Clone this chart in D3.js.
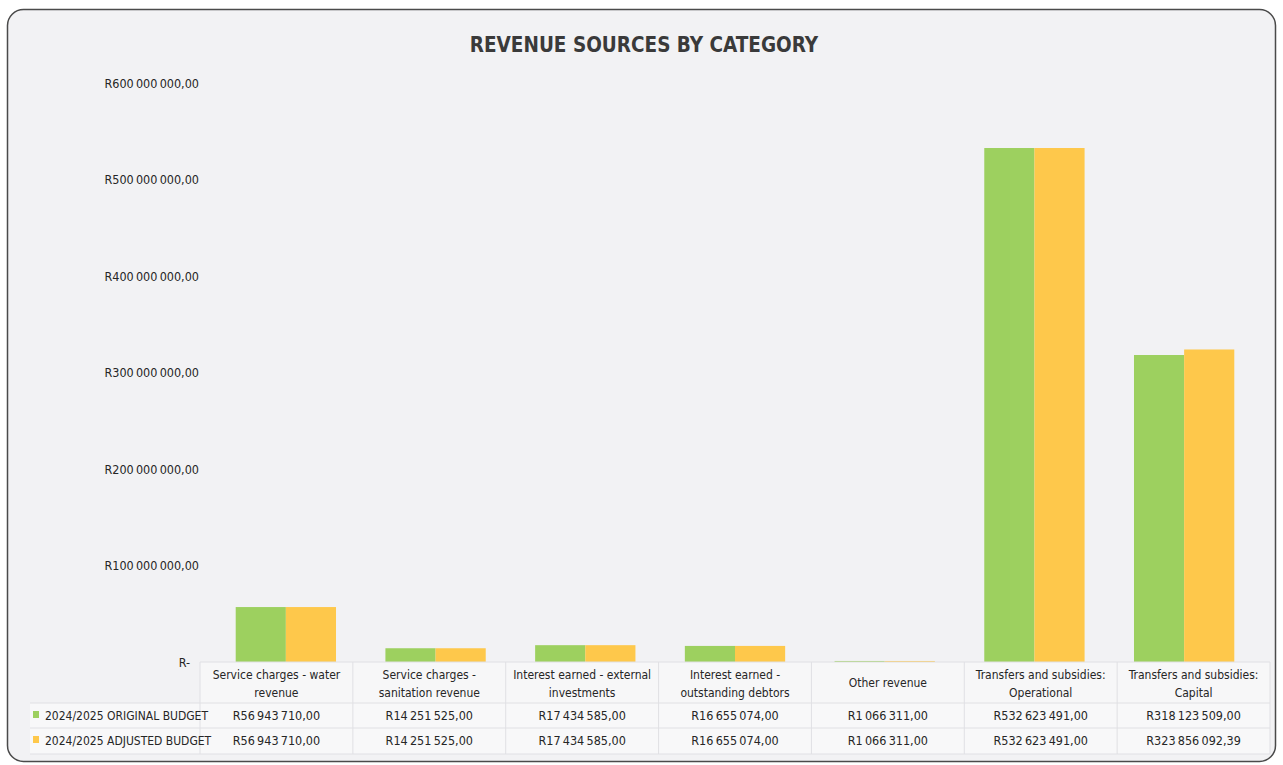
<!DOCTYPE html>
<html>
<head>
<meta charset="utf-8">
<script src="https://cdn.jsdelivr.net/npm/d3@7"></script>
<style>
  body { margin: 0; background: #ffffff; }
  text { font-family: "Liberation Sans Narrow", "DejaVu Sans Condensed", "Liberation Sans", sans-serif; fill: #262626; }
</style>
</head>
<body>
<div id="chart"></div>
<script>
// data
var categories = [
  ["Service charges - water", "revenue"],
  ["Service charges -", "sanitation revenue"],
  ["Interest earned - external", "investments"],
  ["Interest earned -", "outstanding debtors"],
  ["Other revenue"],
  ["Transfers and subsidies:", "Operational"],
  ["Transfers and subsidies:", "Capital"]
];
var seriesNames = ["2024/2025 ORIGINAL BUDGET", "2024/2025 ADJUSTED BUDGET"];
var originalBudget = [56943710, 14251525, 17434585, 16655074, 1066311, 532623491, 318123509];
var adjustedBudget = [56943710, 14251525, 17434585, 16655074, 1066311, 532623491, 323856092.39];
var yTicks = [0, 100000000, 200000000, 300000000, 400000000, 500000000, 600000000];
var colors = ["#9dd05f", "#fec84b"];

// svg container
var svgWidth = 1283;
var svgHeight = 765;

var plot = { left: 211, right: 1259, top: 83, bottom: 662 };
var table = { left: 200, right: 1270, header: 662, row1: 703, row2: 728, end: 754 };

var svg = d3.select("#chart").append("svg")
  .attr("width", svgWidth)
  .attr("height", svgHeight);

// card background
svg.append("rect")
  .attr("x", 7.5).attr("y", 9.5)
  .attr("width", 1268).attr("height", 752)
  .attr("rx", 16)
  .attr("fill", "#f2f2f4")
  .attr("stroke", "#4a4a4a")
  .attr("stroke-width", 1.5);

// title
svg.append("text")
  .attr("x", 644)
  .attr("y", 52)
  .attr("text-anchor", "middle")
  .style("font-size", "20.5px")
  .style("font-weight", "bold")
  .style("fill", "#3a3a3a")
  .text("REVENUE SOURCES BY CATEGORY");

// scales
var idx = d3.range(categories.length);
var x0 = d3.scaleBand()
  .domain(idx)
  .range([plot.left, plot.right])
  .paddingInner(0.33)
  .paddingOuter(0.165);

var x1 = d3.scaleBand()
  .domain([0, 1])
  .range([0, x0.bandwidth()]);

var y = d3.scaleLinear()
  .domain([0, 600000000])
  .range([plot.bottom, plot.top]);

// money format: R56 943 710,00 (thin spaces like the scan)
function money(v) {
  var parts = v.toFixed(2).split(".");
  var intPart = parts[0].replace(/\B(?=(\d{3})+(?!\d))/g, "\u2009");
  return "R" + intPart + "," + parts[1];
}

// y axis (labels only)
var yAxis = d3.axisLeft(y)
  .tickValues(yTicks)
  .tickSize(0)
  .tickPadding(0)
  .tickFormat(d => d === 0 ? "R-" : money(d));

var yG = svg.append("g")
  .attr("transform", `translate(199, 0)`)
  .call(yAxis);
yG.select(".domain").remove();
yG.selectAll("text")
  .style("font-size", "12.5px")
  .style("fill", "#262626")
  .attr("font-family", null)
  .attr("dx", d => d === 0 ? -9 : 0);

// bars
var bars = [originalBudget, adjustedBudget];
var groups = svg.append("g").selectAll("g")
  .data(idx)
  .enter()
  .append("g")
  .attr("transform", d => `translate(${x0(d)}, 0)`);

groups.selectAll("rect")
  .data(i => bars.map((s, k) => ({ k: k, v: s[i] })))
  .enter()
  .append("rect")
  .attr("x", d => x1(d.k))
  .attr("width", x1.bandwidth())
  .attr("y", d => y(d.v))
  .attr("height", d => y(0) - y(d.v))
  .attr("fill", d => colors[d.k]);

// data table
var tx = d3.scaleBand()
  .domain(idx)
  .range([table.left, table.right]);

var tableG = svg.append("g");

tableG.append("rect")
  .attr("x", table.left).attr("y", table.header)
  .attr("width", table.right - table.left).attr("height", table.row1 - table.header)
  .attr("fill", "#f7f7f8");
tableG.append("rect")
  .attr("x", 30).attr("y", table.row1)
  .attr("width", table.right - 30).attr("height", table.end - table.row1)
  .attr("fill", "#f8f8f9");

var lineColor = "#e0e0e4";
[table.header, table.row1, table.row2, table.end].forEach(function(yy, i) {
  tableG.append("line")
    .attr("x1", i === 0 ? table.left : 30).attr("x2", table.right)
    .attr("y1", yy).attr("y2", yy)
    .attr("stroke", lineColor);
});
idx.concat([categories.length]).forEach(function(i) {
  var xx = i < categories.length ? tx(i) : table.right;
  tableG.append("line")
    .attr("x1", xx).attr("x2", xx)
    .attr("y1", table.header).attr("y2", table.end)
    .attr("stroke", lineColor);
});

// category labels
tableG.selectAll(".cat")
  .data(idx)
  .enter()
  .append("text")
  .attr("class", "cat")
  .attr("text-anchor", "middle")
  .style("font-size", "12px")
  .each(function(i) {
    var lines = categories[i];
    var t = d3.select(this);
    var startY = lines.length === 1 ? 687 : 679;
    lines.forEach(function(l, j) {
      t.append("tspan")
        .attr("x", tx(i) + tx.bandwidth() / 2)
        .attr("y", startY + j * 18)
        .text(l);
    });
  });

// value rows
bars.forEach(function(series, k) {
  var rowY = k === 0 ? 720 : 745;
  tableG.selectAll(".val" + k)
    .data(series)
    .enter()
    .append("text")
    .attr("class", "val" + k)
    .attr("x", (d, i) => tx(i) + tx.bandwidth() / 2)
    .attr("y", rowY)
    .attr("text-anchor", "middle")
    .style("font-size", "12.5px")
    .text(d => money(d));

  // legend key + series name
  tableG.append("rect")
    .attr("x", 33).attr("y", rowY - 9)
    .attr("width", 6).attr("height", 7)
    .attr("fill", colors[k]);
  tableG.append("text")
    .attr("x", 45)
    .attr("y", rowY)
    .style("font-size", "12px")
    .text(seriesNames[k]);
});
</script>
</body>
</html>
